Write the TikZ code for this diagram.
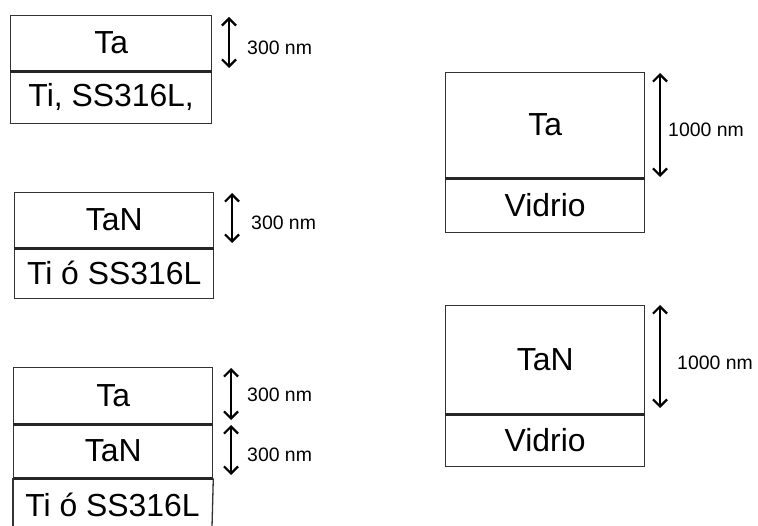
\documentclass[tikz,border=0pt]{standalone}
\usepackage{fontspec}
\setmainfont{Liberation Sans}
\usetikzlibrary{arrows.meta}
\begin{document}
\begin{tikzpicture}[x=1bp,y=-1bp,
  layer/.style={draw=black!80, line width=1.3bp, inner sep=0pt, anchor=north west, font=\fontsize{32}{32}\selectfont},
  bare/.style={inner sep=0pt, font=\fontsize{32}{32}\selectfont},
  sep/.style={line width=3bp, draw=black!85},
  side/.style={line width=1.3bp, draw=black!80},
  dim/.style={line width=2bp, {Straight Barb[length=7bp,width=14bp,line width=2.2bp]}-{Straight Barb[length=7bp,width=14bp,line width=2.2bp]}},
  dimlabel/.style={anchor=west, inner sep=0pt, font=\fontsize{19.5}{20}\selectfont}]
\useasboundingbox (0,0) rectangle (758,526);

% Stack 1
\node[layer, minimum width=201bp, minimum height=55bp] (s1a) at (10,15) {Ta};
\node[layer, minimum width=201bp, minimum height=53bp] (s1b) at (10,70) {Ti, SS316L,};
\draw[sep] (s1a.south west) -- (s1a.south east);
\coordinate (d1t) at (229,17); \coordinate (d1b) at (229,68);
\draw[dim] (d1t) -- (d1b);
\node[dimlabel] (l1) at (247,48) {300 nm};

% Stack 2
\node[layer, minimum width=199bp, minimum height=55bp] (s2a) at (14,192) {TaN};
\node[layer, minimum width=199bp, minimum height=51bp] (s2b) at (14,247) {Ti ó SS316L};
\draw[sep] (s2a.south west) -- (s2a.south east);
\coordinate (d2t) at (232,193); \coordinate (d2b) at (232,243);
\draw[dim] (d2t) -- (d2b);
\node[dimlabel] (l2) at (251,223) {300 nm};

% Stack 3
\node[layer, minimum width=199bp, minimum height=56bp] (s3a) at (13,367) {Ta};
\node[layer, minimum width=199bp, minimum height=54bp] (s3b) at (13,423) {TaN};
\draw[sep] (s3a.south west) -- (s3a.south east);
\draw[sep] (s3b.south west) -- (s3b.south east);
\coordinate (s3cl) at (13,527); \coordinate (s3cr) at (212,527);
\draw[side] (s3b.south west) -- (s3cl);
\draw[side] (s3b.south east) -- (s3cr);
\node[bare] (s3c) at (112.5,505) {Ti ó SS316L};
\coordinate (d3t) at (231,368); \coordinate (d3m1) at (231,420);
\coordinate (d3m2) at (231,425); \coordinate (d3b) at (231,475);
\draw[dim] (d3t) -- (d3m1);
\draw[dim] (d3m2) -- (d3b);
\node[dimlabel] (l3a) at (247,395) {300 nm};
\node[dimlabel] (l3b) at (247,455) {300 nm};

% Right stack 1
\node[layer, minimum width=199bp, minimum height=105bp] (r1a) at (445,72) {Ta};
\node[layer, minimum width=199bp, minimum height=55bp] (r1b) at (445,177) {Vidrio};
\draw[sep] (r1a.south west) -- (r1a.south east);
\coordinate (d4t) at (660,73); \coordinate (d4b) at (660,177);
\draw[dim] (d4t) -- (d4b);
\node[dimlabel] (l4) at (668,130) {1000 nm};

% Right stack 2
\node[layer, minimum width=199bp, minimum height=108bp] (r2a) at (445,305) {TaN};
\node[layer, minimum width=199bp, minimum height=53bp] (r2b) at (445,413) {Vidrio};
\draw[sep] (r2a.south west) -- (r2a.south east);
\coordinate (d5t) at (660,305); \coordinate (d5b) at (660,408);
\draw[dim] (d5t) -- (d5b);
\node[dimlabel] (l5) at (677,363) {1000 nm};
\end{tikzpicture}
\end{document}
